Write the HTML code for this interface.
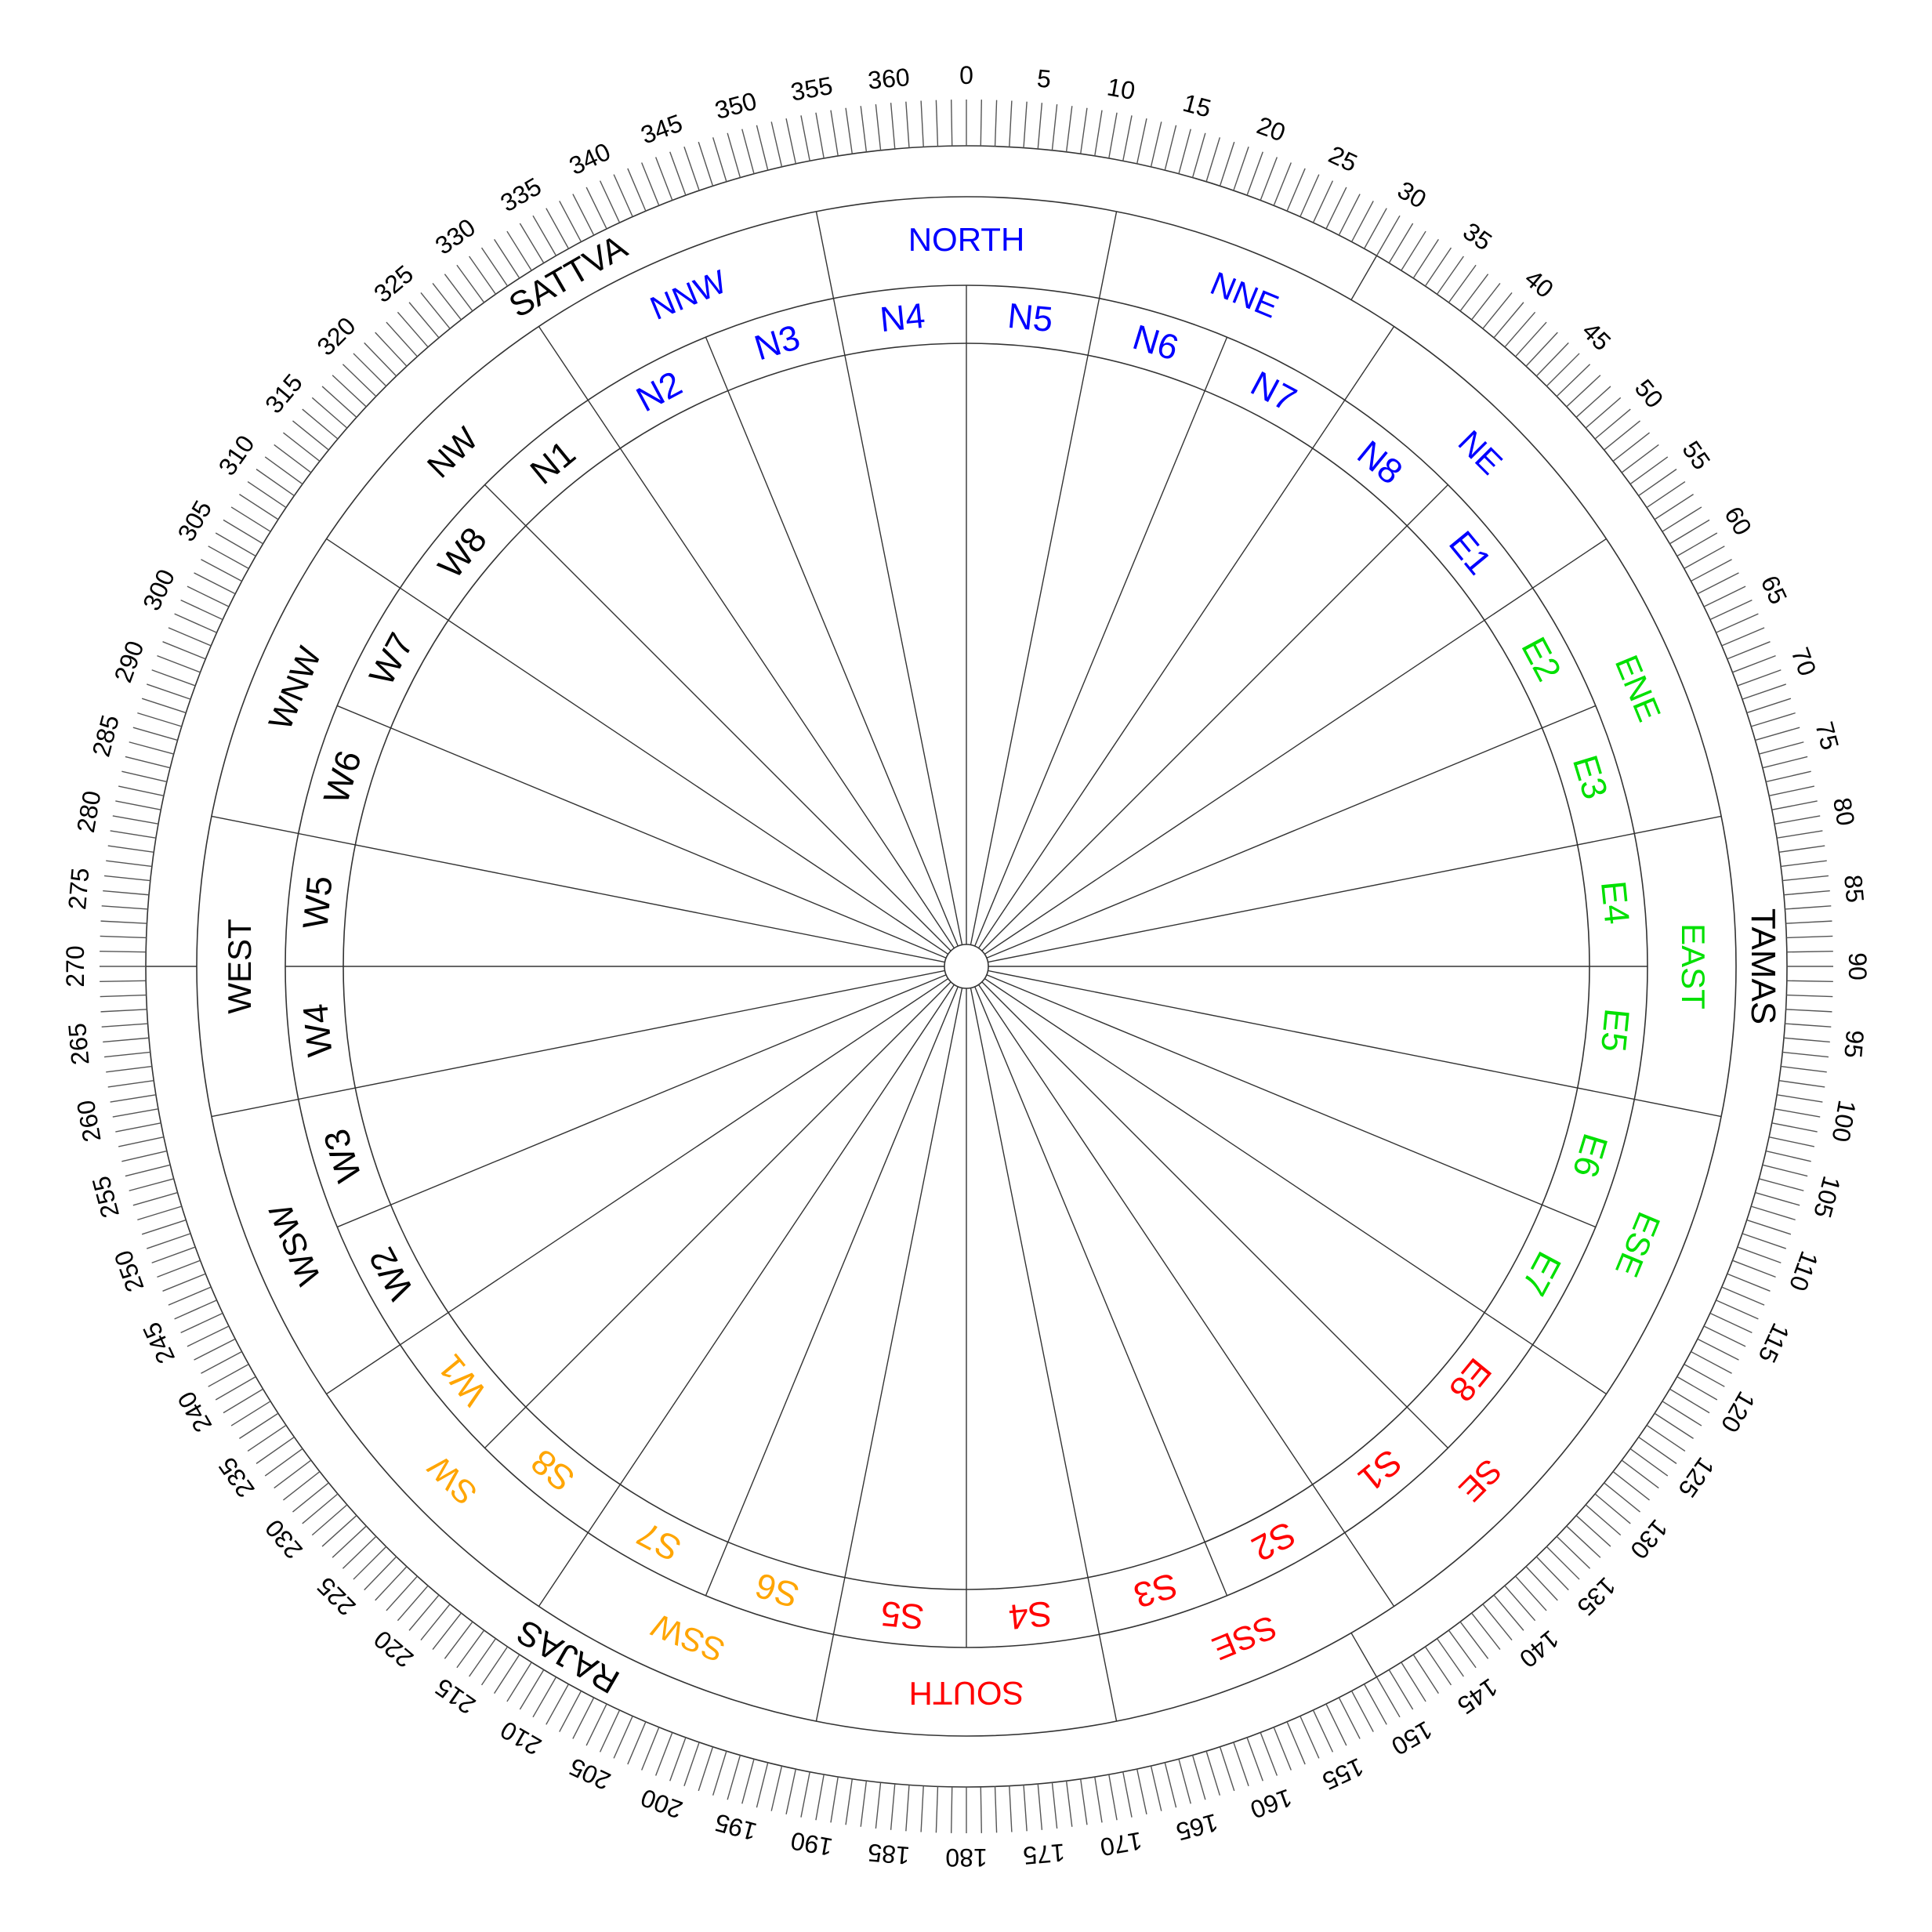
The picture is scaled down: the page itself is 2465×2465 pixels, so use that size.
<!DOCTYPE html>
<html><head><meta charset="utf-8"><style>
html,body{margin:0;padding:0;background:#fff;}
svg{display:block;}
text{font-family:"Liberation Sans",Arial,sans-serif;}
</style></head><body>
<svg id="chart" width="2465" height="2465" viewBox="0 0 2465 2465" xmlns="http://www.w3.org/2000/svg">
<rect width="2465" height="2465" fill="#fff"/>
<g id="g"></g>
</svg>
<script>
const tickLabelAngles = [0,5,10,15,20,25,30,35,40,45,50,55,60,65,70,75,80,85,90,95,100,105,110,115,120,125,130,135,140,145,150,155,160,165,170,175,180,185,190,195,200,205,210,215,220,225,230,235,240,245,250,255,260,265,270,275,280,285,290,295,300,305,310,315,320,325,330,335,340,345,350,355];
const tickLabels = ["0","5","10","15","20","25","30","35","40","45","50","55","60","65","70","75","80","85","90","95","100","105","110","115","120","125","130","135","140","145","150","155","160","165","170","175","180","185","190","195","200","205","210","215","220","225","230","235","240","245","250","255","260","265","270","275","280","285","290","300","305","310","315","320","325","330","335","340","345","350","355","360"];
const zoneNames = ["NORTH","NNE","NE","ENE","EAST","ESE","SE","SSE","SOUTH","SSW","SW","WSW","WEST","WNW","NW","NNW"];
const zoneColors = ["#0000ff","#0000ff","#0000ff","#00e000","#00e000","#00e000","#ff0000","#ff0000","#ff0000","#ffa500","#ffa500","#000","#000","#000","#000","#0000ff"];
const devtaNames = ["N5","N6","N7","N8","E1","E2","E3","E4","E5","E6","E7","E8","S1","S2","S3","S4","S5","S6","S7","S8","W1","W2","W3","W4","W5","W6","W7","W8","N1","N2","N3","N4"];
const devtaColors = ["#0000ff","#0000ff","#0000ff","#0000ff","#0000ff","#00e000","#00e000","#00e000","#00e000","#00e000","#00e000","#ff0000","#ff0000","#ff0000","#ff0000","#ff0000","#ff0000","#ffa500","#ffa500","#ffa500","#ffa500","#000","#000","#000","#000","#000","#000","#000","#000","#0000ff","#0000ff","#0000ff"];
const gunaNames = ["TAMAS","RAJAS","SATTVA"];
const gunaCenters = [90,210,330];
const gunaBounds = [30,150,270];

const CX=1233, CY=1233;
const R0=28, R1=795, R2=869, R3=982, R4=1047, RT=1106, RL=1137;
const NS="http://www.w3.org/2000/svg";
const g=document.getElementById('g');
function pt(r,a){const t=a*Math.PI/180;return [CX+r*Math.sin(t),CY-r*Math.cos(t)];}
function line(a,r1,r2,stroke,w){
  const p=pt(r1,a),q=pt(r2,a);
  const l=document.createElementNS(NS,'line');
  l.setAttribute('x1',p[0]);l.setAttribute('y1',p[1]);l.setAttribute('x2',q[0]);l.setAttribute('y2',q[1]);
  l.setAttribute('stroke',stroke);l.setAttribute('stroke-width',w);
  g.appendChild(l);return l;
}
function circ(r){
  const c=document.createElementNS(NS,'circle');
  c.setAttribute('cx',CX);c.setAttribute('cy',CY);c.setAttribute('r',r);
  c.setAttribute('fill','none');c.setAttribute('stroke','#333');c.setAttribute('stroke-width',1.6);
  g.appendChild(c);return c;
}
function txt(s,a,r,size,fill){
  const p=pt(r,a);
  const t=document.createElementNS(NS,'text');
  t.setAttribute('x',p[0]);t.setAttribute('y',p[1]);
  t.setAttribute('text-anchor','middle');t.setAttribute('dominant-baseline','central');
  t.setAttribute('font-size',size);t.setAttribute('fill',fill);
  t.setAttribute('transform','rotate('+a+' '+p[0]+' '+p[1]+')');
  t.textContent=s;g.appendChild(t);return t;
}
// circles
[R0,R1,R2,R3,R4].forEach((r,i)=>{
  const c=circ(r);
  
  
});
// degree ticks
for(let d=0;d<360;d++){
  const l=line(d,R4,RT,'#555',1.4);
  
  
}
tickLabelAngles.forEach((a,i)=>{
  const t=txt(tickLabels[i],a,RL,32,'#000');
  
  
});
// devta lines
devtaNames.forEach((n,i)=>{
  const a=i*11.25;
  const l=line(a,R0,R2,'#333',1.4);
  
  
  const t=txt(n,a+5.625,(R1+R2)/2,45,devtaColors[i]);
  
  
});
// zones
zoneNames.forEach((n,i)=>{
  const a=i*22.5;
  const l=line(a+11.25,R2,R3,'#333',1.4);
  
  
  const t=txt(n,a,(R2+R3)/2+2,42,zoneColors[i]);
  
  
});
// guna
gunaBounds.forEach(a=>{
  const l=line(a,R3,R4,'#333',1.4);
  
  
});
gunaNames.forEach((n,i)=>{
  const t=txt(n,gunaCenters[i],(R3+R4)/2+2,44,'#000');
  
  
});
</script>
</body></html>
